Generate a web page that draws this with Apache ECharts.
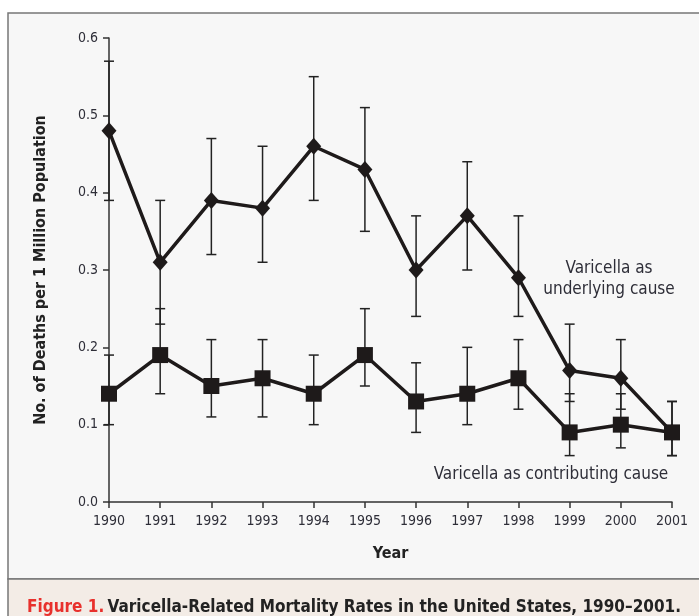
<!DOCTYPE html>
<html><head><meta charset="utf-8">
<script src="https://cdn.jsdelivr.net/npm/echarts@6/dist/echarts.min.js"></script>
<style>html,body{margin:0;padding:0;background:#fff}#c{width:699px;height:616px}</style>
</head><body><div id="c"></div>
<script>
const years = ['1990','1991','1992','1993','1994','1995','1996','1997','1998','1999','2000','2001'];
const underlying = [0.48,0.31,0.39,0.38,0.46,0.43,0.30,0.37,0.29,0.17,0.16,0.09];
const underlyingLow = [0.39,0.23,0.32,0.31,0.39,0.35,0.24,0.30,0.24,0.13,0.12,0.06];
const underlyingHigh = [0.57,0.39,0.47,0.46,0.55,0.51,0.37,0.44,0.37,0.23,0.21,0.13];
const contributing = [0.14,0.19,0.15,0.16,0.14,0.19,0.13,0.14,0.16,0.09,0.10,0.09];
const contributingLow = [0.10,0.14,0.11,0.11,0.10,0.15,0.09,0.10,0.12,0.06,0.07,0.06];
const contributingHigh = [0.19,0.25,0.21,0.21,0.19,0.25,0.18,0.20,0.21,0.14,0.14,0.13];

const FONT = "'Liberation Sans Narrow', 'DejaVu Sans Condensed', sans-serif";
const TXT = '#2e2e38';

function errData(lo, hi){ return years.map((y,i)=>[i, lo[i], hi[i]]); }
function renderErr(params, api){
  const x = api.value(0);
  const p1 = api.coord([x, api.value(1)]);
  const p2 = api.coord([x, api.value(2)]);
  const w = 5;
  const st = {stroke:'#222', lineWidth:1.5, fill:null};
  return {type:'group', children:[
    {type:'line', shape:{x1:p1[0],y1:p1[1],x2:p2[0],y2:p2[1]}, style:st},
    {type:'line', shape:{x1:p1[0]-w,y1:p1[1],x2:p1[0]+w,y2:p1[1]}, style:st},
    {type:'line', shape:{x1:p2[0]-w,y1:p2[1],x2:p2[0]+w,y2:p2[1]}, style:st}
  ]};
}

const chart = echarts.init(document.getElementById('c'), null, {renderer:'canvas'});
chart.setOption({
  animation:false,
  backgroundColor:'#ffffff',
  graphic:[
    {type:'rect', z:-10, shape:{x:8,y:13,width:700,height:566}, style:{fill:'#f7f7f7', stroke:'#777', lineWidth:1.5}},
    {type:'rect', z:-10, shape:{x:8,y:579,width:700,height:40}, style:{fill:'#f3ece6', stroke:'#777', lineWidth:1.5}},
    {type:'text', x:27, y:608, style:{rich:{
        r:{fill:'#e8302c', fontFamily:FONT, fontWeight:'bold', fontSize:17},
        d:{fill:'#222', fontFamily:FONT, fontWeight:'bold', fontSize:17}},
      text:'{r|Figure 1.} {d|Varicella-Related Mortality Rates in the United States, 1990–2001.}', verticalAlign:'middle'}},
    {type:'text', x:609, y:279, style:{text:'Varicella as\nunderlying cause', fill:TXT, fontFamily:FONT, fontSize:17, align:'center', verticalAlign:'middle', lineHeight:21}},
    {type:'text', x:551, y:475, style:{text:'Varicella as contributing cause', fill:TXT, fontFamily:FONT, fontSize:17, align:'center', verticalAlign:'middle'}}
  ],
  grid:{left:109, right:27, top:38, bottom:114},
  xAxis:{
    type:'category', data:years, boundaryGap:false,
    name:'Year', nameLocation:'middle', nameGap:44,
    nameTextStyle:{fontFamily:FONT, fontWeight:'bold', fontSize:16, color:'#222'},
    axisLine:{lineStyle:{color:'#333', width:1.5}},
    axisTick:{show:true, length:6, lineStyle:{color:'#333', width:1.5}},
    axisLabel:{fontFamily:FONT, fontSize:14, color:TXT, margin:12, interval:0},
    splitLine:{show:false}
  },
  yAxis:{
    type:'value', min:0, max:0.6, interval:0.1,
    name:'No. of Deaths per 1 Million Population', nameLocation:'middle', nameGap:60,
    nameTextStyle:{fontFamily:FONT, fontWeight:'bold', fontSize:16, color:'#222'},
    axisLine:{show:true, lineStyle:{color:'#333', width:1.5}},
    axisTick:{show:true, length:6, lineStyle:{color:'#333', width:1.5}},
    axisLabel:{fontFamily:FONT, fontSize:14, color:TXT, margin:11, formatter:v=>v.toFixed(1)},
    splitLine:{show:false}
  },
  series:[
    {type:'custom', renderItem:renderErr, data:errData(underlyingLow, underlyingHigh), z:3},
    {type:'custom', renderItem:renderErr, data:errData(contributingLow, contributingHigh), z:3},
    {type:'line', data:underlying, symbol:'diamond', symbolSize:[15,17], lineStyle:{color:'#1e1a1a', width:3.5}, itemStyle:{color:'#1e1a1a'}, z:5},
    {type:'line', data:contributing, symbol:'rect', symbolSize:16, lineStyle:{color:'#1e1a1a', width:3.5}, itemStyle:{color:'#1e1a1a'}, z:5}
  ]
});
</script></body></html>
